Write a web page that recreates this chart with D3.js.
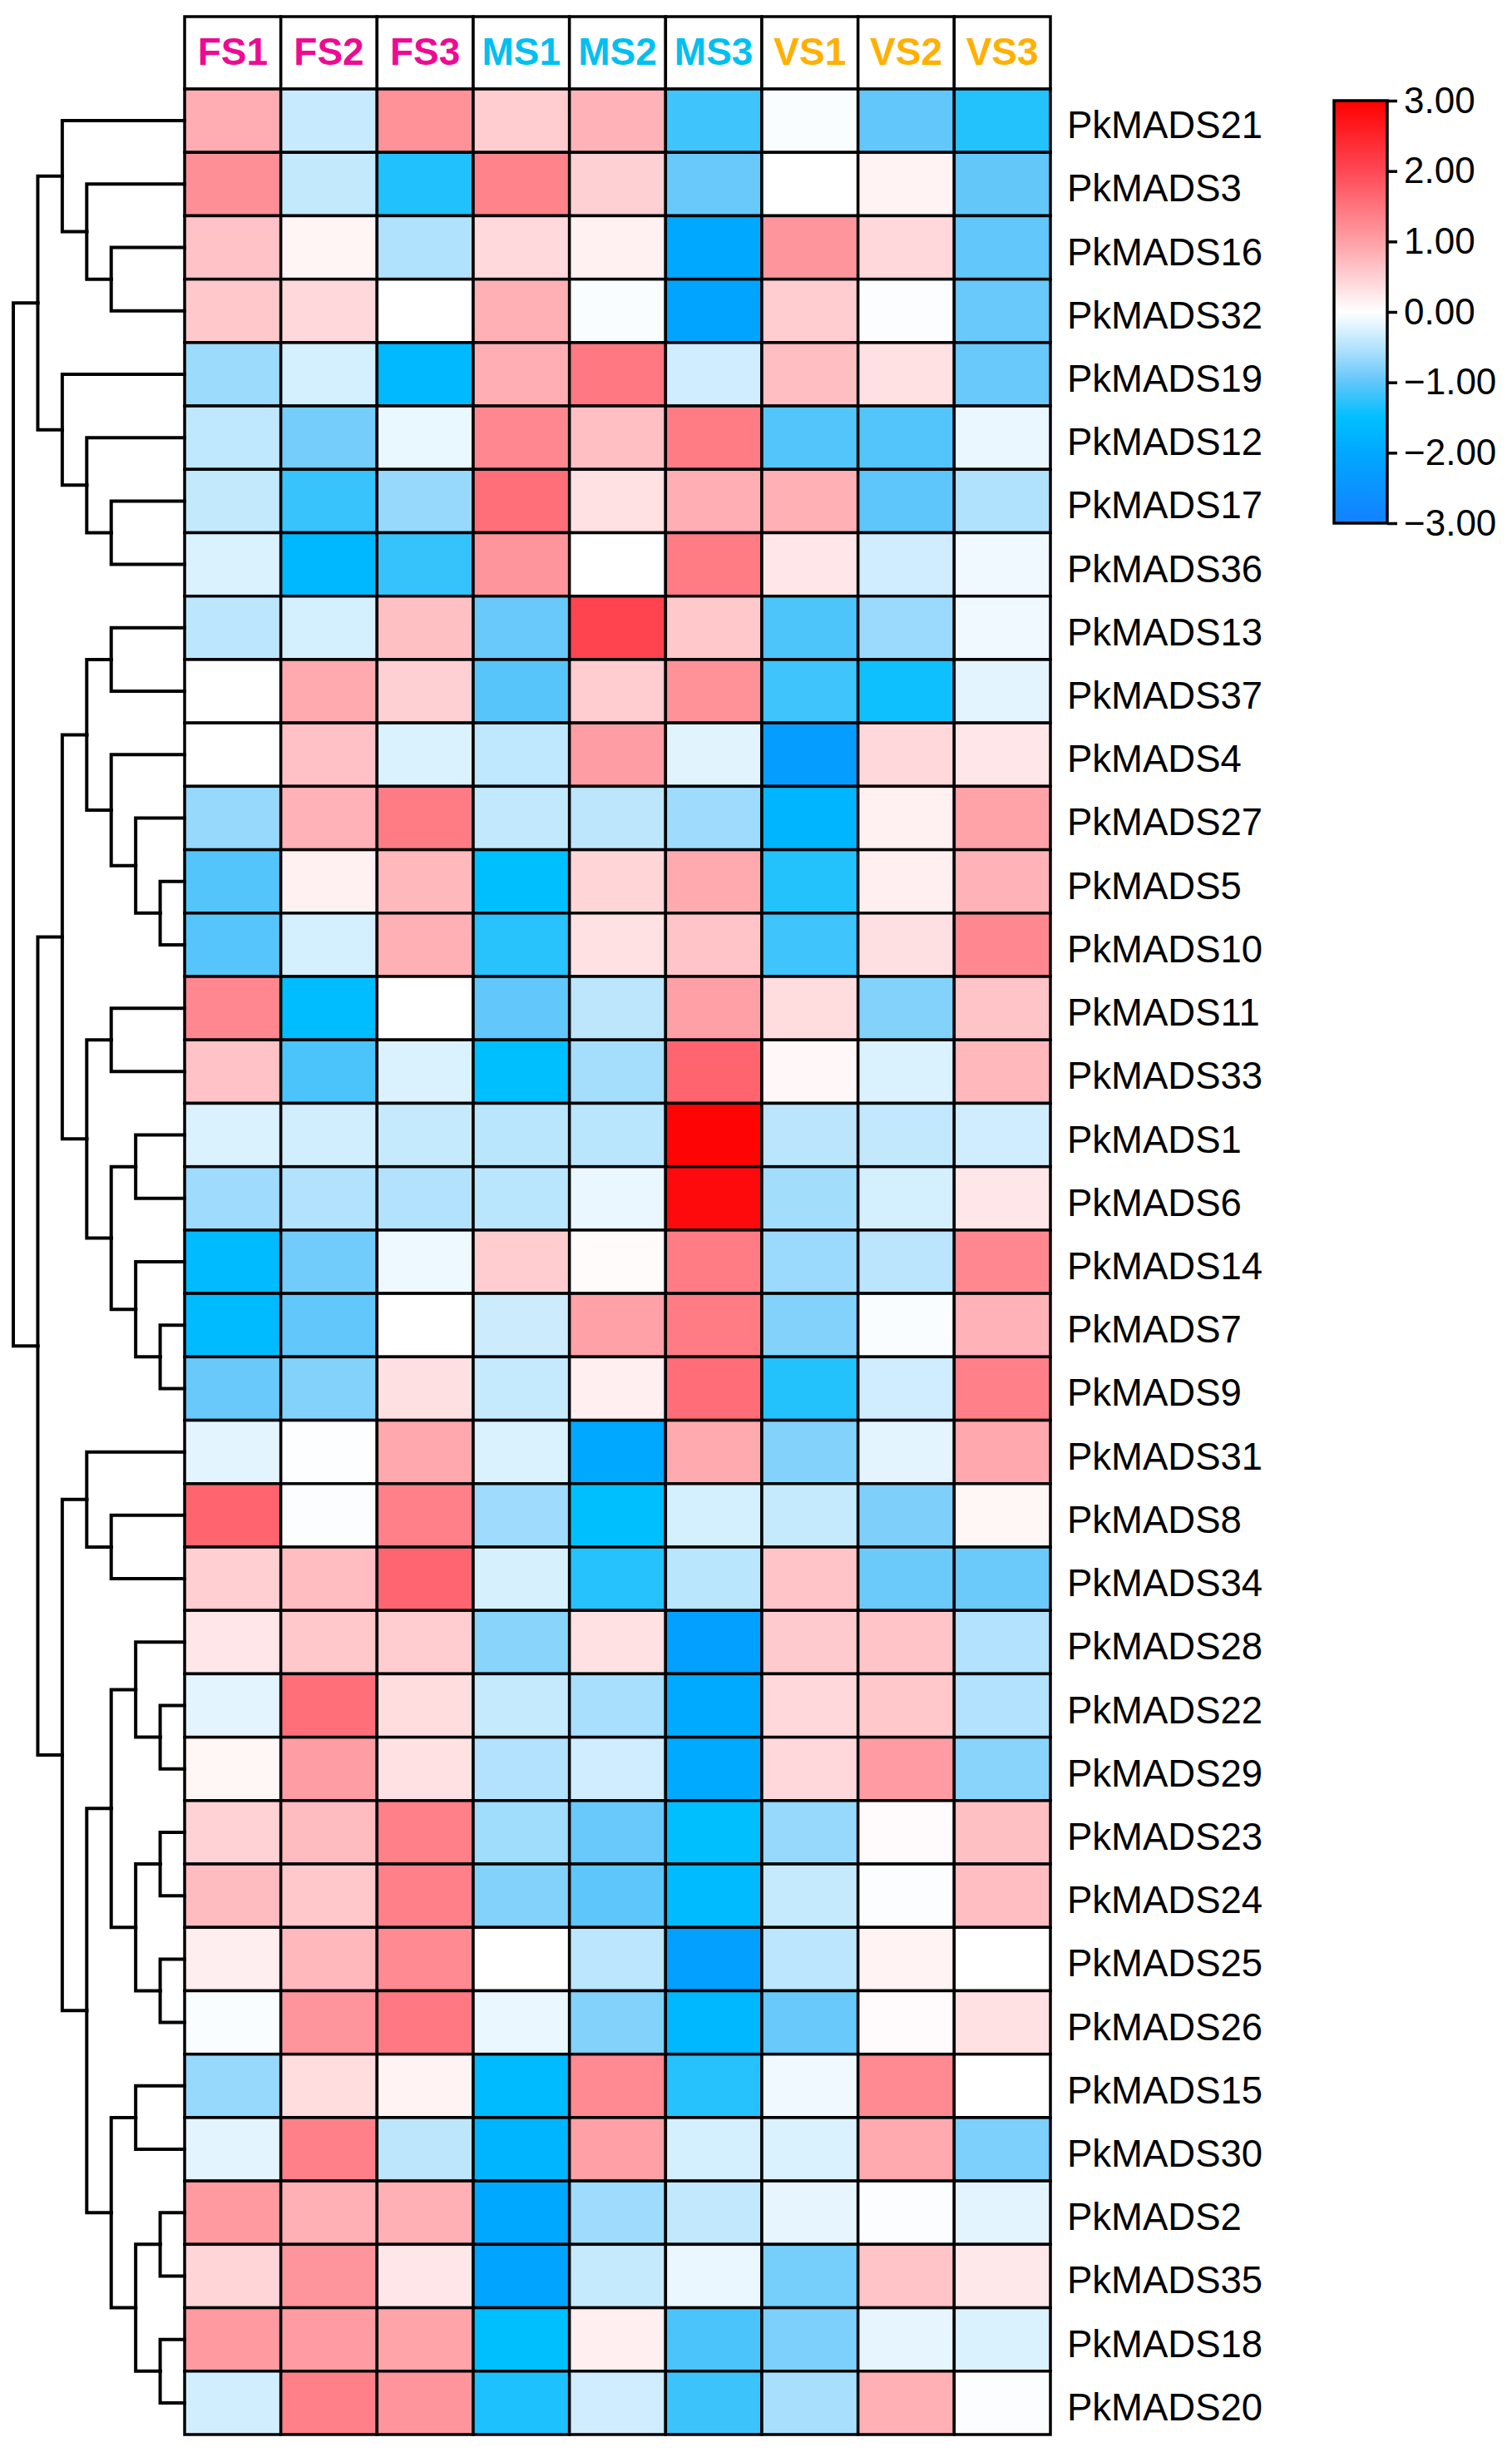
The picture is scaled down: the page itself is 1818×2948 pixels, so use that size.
<!DOCTYPE html>
<html>
<head>
<meta charset="utf-8">
<script src="https://cdn.jsdelivr.net/npm/d3@7"></script>
<style>
  body { margin: 0; background: #fff; }
  text { font-family: "Liberation Sans", Arial, sans-serif; }
</style>
</head>
<body>
<div id="chart"></div>
<script>
// ---- data ----
const samples = ["FS1", "FS2", "FS3", "MS1", "MS2", "MS3", "VS1", "VS2", "VS3"];

const genes = [
  "PkMADS21", "PkMADS3", "PkMADS16", "PkMADS32", "PkMADS19", "PkMADS12", "PkMADS17",
  "PkMADS36", "PkMADS13", "PkMADS37", "PkMADS4", "PkMADS27", "PkMADS5", "PkMADS10",
  "PkMADS11", "PkMADS33", "PkMADS1", "PkMADS6", "PkMADS14", "PkMADS7", "PkMADS9",
  "PkMADS31", "PkMADS8", "PkMADS34", "PkMADS28", "PkMADS22", "PkMADS29", "PkMADS23",
  "PkMADS24", "PkMADS25", "PkMADS26", "PkMADS15", "PkMADS30", "PkMADS2", "PkMADS35",
  "PkMADS18", "PkMADS20"
];

// one row per gene, columns in the order of samples
const values = [
  [ 0.86, -0.37,  1.17,  0.53,  0.80, -1.17, -0.04, -0.99, -1.32],
  [ 1.19, -0.40, -1.33,  1.33,  0.50, -0.95,  0.00,  0.13, -0.98],
  [ 0.64,  0.11, -0.52,  0.40,  0.15, -2.00,  1.12,  0.41, -0.99],
  [ 0.58,  0.41,  0.00,  0.83, -0.04, -2.07,  0.54, -0.03, -0.95],
  [-0.64, -0.29, -1.63,  0.84,  1.45, -0.32,  0.68,  0.32, -0.95],
  [-0.43, -0.88, -0.15,  1.27,  0.67,  1.41, -1.07, -1.07, -0.14],
  [-0.40, -1.21, -0.68,  1.56,  0.32,  0.84,  0.83, -1.01, -0.52],
  [-0.25, -1.65, -1.22,  1.12,  0.00,  1.41,  0.26, -0.32, -0.11],
  [-0.45, -0.29,  0.66, -0.95,  2.06,  0.57, -1.10, -0.65, -0.11],
  [ 0.00,  0.90,  0.49, -1.04,  0.54,  1.17, -1.17, -1.42, -0.19],
  [ 0.00,  0.65, -0.25, -0.43,  1.03, -0.20, -2.27,  0.41,  0.26],
  [-0.67,  0.80,  1.41, -0.41, -0.44, -0.63, -1.72,  0.16,  0.97],
  [-1.07,  0.15,  0.75, -1.50,  0.44,  0.90, -1.32,  0.17,  0.80],
  [-1.05, -0.29,  0.83, -1.29,  0.32,  0.62, -1.17,  0.33,  1.27],
  [ 1.27, -1.54,  0.00, -0.99, -0.44,  1.00,  0.36, -0.80,  0.62],
  [ 0.64, -1.11, -0.25, -1.50, -0.59,  1.68,  0.08, -0.25,  0.75],
  [-0.25, -0.31, -0.38, -0.47, -0.47,  2.95, -0.46, -0.41, -0.32],
  [-0.63, -0.51, -0.51, -0.47, -0.14,  2.86, -0.60, -0.29,  0.26],
  [-1.58, -0.89, -0.12,  0.53,  0.04,  1.41, -0.65, -0.46,  1.27],
  [-1.58, -0.99,  0.00, -0.34,  0.99,  1.41, -0.79, -0.04,  0.80],
  [-0.95, -0.79,  0.33, -0.38,  0.17,  1.57, -1.32, -0.32,  1.36],
  [-0.19, -0.02,  0.92, -0.25, -2.00,  0.90, -0.79, -0.19,  0.92],
  [ 1.68, -0.03,  1.36, -0.63, -1.50, -0.29, -0.38, -0.82,  0.10],
  [ 0.51,  0.70,  1.67, -0.27, -1.30, -0.47,  0.62, -0.93, -0.93],
  [ 0.26,  0.58,  0.53, -0.76,  0.32, -2.20,  0.56,  0.62, -0.51],
  [-0.19,  1.56,  0.36, -0.38, -0.57, -1.93,  0.41,  0.58, -0.51],
  [ 0.10,  1.03,  0.32, -0.51, -0.32, -1.93,  0.41,  1.04, -0.76],
  [ 0.47,  0.71,  1.36, -0.62, -0.95, -1.50, -0.67,  0.05,  0.66],
  [ 0.71,  0.58,  1.36, -0.79, -1.01, -1.58, -0.38, -0.03,  0.68],
  [ 0.18,  0.75,  1.25,  0.00, -0.45, -2.20, -0.45,  0.13,  0.00],
  [-0.04,  1.12,  1.45, -0.14, -0.79, -1.65, -0.95,  0.05,  0.32],
  [-0.68,  0.36,  0.13, -1.58,  1.25, -1.30, -0.11,  1.25,  0.00],
  [-0.19,  1.36, -0.44, -1.72,  1.00, -0.29, -0.25,  0.90, -0.83],
  [ 1.07,  0.83,  0.83, -2.00, -0.63, -0.41, -0.17, -0.03, -0.19],
  [ 0.44,  1.12,  0.26, -2.07, -0.38, -0.14, -0.87,  0.62,  0.24],
  [ 1.07,  1.04,  0.95, -1.50,  0.17, -1.11, -0.83, -0.17, -0.25],
  [-0.31,  1.36,  1.12, -1.35, -0.32, -1.18, -0.57,  0.83, -0.03]
];

const legendTicks = [3, 2, 1, 0, -1, -2, -3];

// row clustering (topology only)
const tree = [
  [["PkMADS21", ["PkMADS3", ["PkMADS16", "PkMADS32"]]],
   ["PkMADS19", ["PkMADS12", ["PkMADS17", "PkMADS36"]]]],
  [[[["PkMADS13", "PkMADS37"], ["PkMADS4", ["PkMADS27", ["PkMADS5", "PkMADS10"]]]],
    [["PkMADS11", "PkMADS33"], [["PkMADS1", "PkMADS6"], ["PkMADS14", ["PkMADS7", "PkMADS9"]]]]],
   [["PkMADS31", ["PkMADS8", "PkMADS34"]],
    [[["PkMADS28", ["PkMADS22", "PkMADS29"]], [["PkMADS23", "PkMADS24"], ["PkMADS25", "PkMADS26"]]],
     [["PkMADS15", "PkMADS30"], [["PkMADS2", "PkMADS35"], ["PkMADS18", "PkMADS20"]]]]]]
];

// ---- layout ----
const W = 1818, H = 2948;
const mapLeft = 222, mapRight = 1263, headTop = 20, mapTop = 107, mapBottom = 2927;
const lineW = 3.5;

const groupColor = { F: "#EE0A93", M: "#00C0F0", V: "#FFB000" };

const svg = d3.select("#chart").append("svg")
  .attr("width", W).attr("height", H);

svg.append("rect").attr("width", W).attr("height", H).attr("fill", "#fff");

const x = d3.scaleBand().domain(samples).range([mapLeft, mapRight]);
const y = d3.scaleBand().domain(genes).range([mapTop, mapBottom]);

const color = d3.scaleLinear()
  .domain([-3, -2, -1.5, -1, -0.5, 0, 1, 2, 3])
  .range(["#1480FF", "#00A8FF", "#00BFFF", "#60C6FA", "#B4E3FD", "#FFFFFF", "#FFA0A6", "#FF4855", "#FF0000"])
  .clamp(true);

// header
const head = svg.append("g");
head.selectAll("rect")
  .data(samples)
  .enter()
  .append("rect")
  .attr("x", d => x(d))
  .attr("y", headTop)
  .attr("width", x.bandwidth())
  .attr("height", mapTop - headTop)
  .attr("fill", "#fff")
  .attr("stroke", "#000")
  .attr("stroke-width", lineW);

head.selectAll("text")
  .data(samples)
  .enter()
  .append("text")
  .attr("x", d => x(d) + x.bandwidth() / 2)
  .attr("y", 78)
  .attr("text-anchor", "middle")
  .attr("font-size", "46px")
  .attr("font-weight", "bold")
  .attr("fill", d => groupColor[d[0]])
  .text(d => d);

// cells
const cells = [];
genes.forEach((g, i) => samples.forEach((s, j) => cells.push({ gene: g, sample: s, v: values[i][j] })));

svg.append("g")
  .selectAll("rect")
  .data(cells)
  .enter()
  .append("rect")
  .attr("x", d => x(d.sample))
  .attr("y", d => y(d.gene))
  .attr("width", x.bandwidth())
  .attr("height", y.bandwidth())
  .attr("fill", d => color(d.v))
  .attr("stroke", "#000")
  .attr("stroke-width", lineW);

// gene labels
svg.append("g")
  .selectAll("text")
  .data(genes)
  .enter()
  .append("text")
  .attr("x", 1283)
  .attr("y", d => y(d) + y.bandwidth() / 2 + 21)
  .attr("font-size", "45.5px")
  .attr("fill", "#000")
  .text(d => d);

// dendrogram
const root = d3.hierarchy(tree, d => Array.isArray(d) ? d : null);
const maxDepth = 7;
const dx = d3.scaleLinear().domain([0, maxDepth]).range([16, mapLeft]);
root.eachAfter(n => {
  if (n.children) {
    n.py = d3.mean(n.children, c => c.py);
    n.px = dx(n.depth);
  } else {
    n.py = y(n.data) + y.bandwidth() / 2;
    n.px = mapLeft;
  }
});

svg.append("g")
  .selectAll("path")
  .data(root.links())
  .enter()
  .append("path")
  .attr("d", l => `M${l.source.px},${l.source.py}V${l.target.py}H${l.target.px}`)
  .attr("fill", "none")
  .attr("stroke", "#000")
  .attr("stroke-width", 4)
  .attr("stroke-linecap", "square");

// colour legend
const lgX = 1604, lgW = 64, lgTop = 121, lgBot = 629;
const ly = d3.scaleLinear().domain([3, -3]).range([lgTop, lgBot]);

const grad = svg.append("defs").append("linearGradient")
  .attr("id", "lg").attr("x1", 0).attr("y1", 0).attr("x2", 0).attr("y2", 1);
grad.selectAll("stop")
  .data(color.domain().slice().reverse())
  .enter()
  .append("stop")
  .attr("offset", d => (ly(d) - lgTop) / (lgBot - lgTop))
  .attr("stop-color", d => color(d));

svg.append("rect")
  .attr("x", lgX).attr("y", lgTop)
  .attr("width", lgW).attr("height", lgBot - lgTop)
  .attr("fill", "url(#lg)")
  .attr("stroke", "#000")
  .attr("stroke-width", 3.5);

const lg = svg.append("g")
  .attr("transform", `translate(${lgX + lgW},0)`)
  .call(d3.axisRight(ly).tickValues(legendTicks).tickSize(12).tickPadding(8)
    .tickFormat(d => d3.format(".2f")(d).replace("-", "\u2212")));
lg.select(".domain").remove();
lg.selectAll(".tick line").attr("stroke", "#000").attr("stroke-width", 3.5);
lg.selectAll(".tick text")
  .attr("font-size", "44px")
  .attr("fill", "#000")
  .attr("font-family", "\"Liberation Sans\", Arial, sans-serif");
</script>
</body>
</html>
